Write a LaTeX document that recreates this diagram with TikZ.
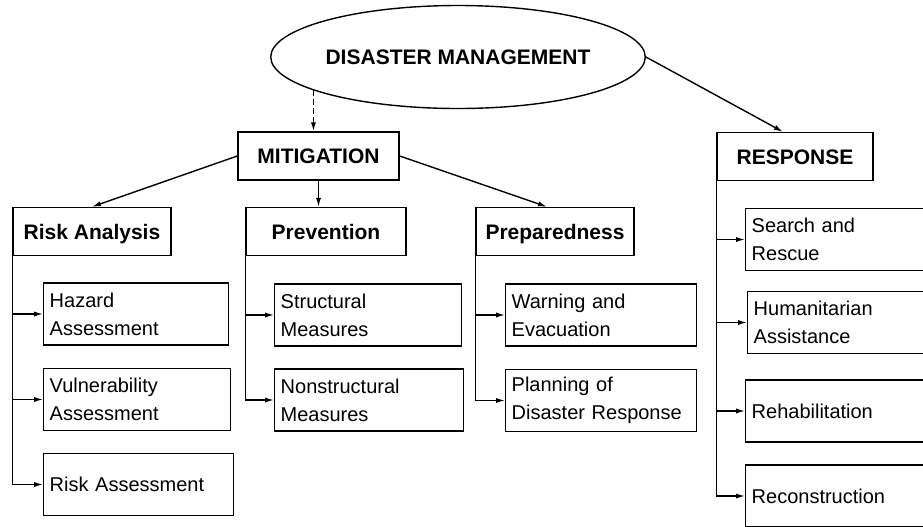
\documentclass[tikz,border=0pt]{standalone}
\usepackage{fontspec}
\setmainfont{Liberation Sans}
\usetikzlibrary{shapes.geometric, arrows.meta}

\tikzset{
  heading/.style={draw, line width=0.7pt, font=\bfseries\fontsize{10.5}{12}\selectfont,
    minimum width=#1, minimum height=24pt, inner sep=0pt, text height=7.6pt, text depth=0pt},
  leaf/.style={draw, line width=0.7pt, font=\fontsize{10}{14}\selectfont, align=left,
    anchor=west, minimum height=31pt, inner xsep=3pt, text width=#1},
  branch/.style={line width=0.7pt, -{Latex[length=4.5pt,width=2.6pt]}},
}

\begin{document}
\begin{tikzpicture}[x=0.5pt, y=-0.5pt]
\useasboundingbox (0,0) rectangle (923,526);
\clip (0,0) rectangle (923,526);

% top level
\node [ellipse, draw, line width=0.7pt, minimum width=175pt, minimum height=51.5pt,
  inner sep=0pt, font=\bfseries\fontsize{10.5}{12}\selectfont] (dm) at (458,57)
  {\raisebox{-2pt}{DISASTER MANAGEMENT}};

\node [heading=80.5pt] (mit) at (318.5,156) {MITIGATION};
\node [heading=78pt] (resp) at (795,156.5) {RESPONSE};

\draw [branch, dash pattern=on 3pt off 1.5pt] (dm.193) -- (dm.193 |- mit.north);
\draw [branch] (dm.east) -- ([xshift=-6pt]resp.north);

% second level
\node [heading=79pt] (ra) at (92,231.5) {Risk Analysis};
\node [heading=80pt] (prev) at (326,231.5) {Prevention};
\node [heading=79pt] (prep) at (555,231.5) {Preparedness};

\draw [branch] (mit.west) -- (ra.north);
\draw [branch] (mit.south) -- (mit.south |- prev.north);
\draw [branch] (mit.east) -- ([xshift=-4pt]prep.north);

% leaves
\foreach \n/\w/\y/\t in {haz/86.5/314/{Hazard\\Assessment},
    vul/87.5/399.5/{Vulnerability\\Assessment},
    risk/89/484.5/{Risk~Assessment}}
{
  \node [leaf=\w pt] (\n) at (43,\y) {\t};
  \draw [branch] (ra.south west) |- (\n.west);
}

\foreach \n/\w/\y/\t in {str/87.5/315/{Structural\\Measures},
    nonstr/88.5/400/{Nonstructural\\Measures}}
{
  \node [leaf=\w pt] (\n) at (274,\y) {\t};
  \draw [branch] (prev.south west) |- (\n.west);
}

\foreach \n/\w/\y/\t in {warn/89.5/315/{Warning~and\\Evacuation},
    plan/89.5/400.5/{Planning~of\\Disaster~Response}}
{
  \node [leaf=\w pt] (\n) at (505,\y) {\t};
  \draw [branch] (prep.south west) |- (\n.west);
}

\foreach \n/\x/\y/\t in {sar/745/239.5/{Search~and\\Rescue},
    hum/747/322.5/{Humanitarian\\Assistance},
    rehab/745/411/{Rehabilitation},
    recon/745/496/{Reconstruction}}
{
  \node [leaf=130pt] (\n) at (\x,\y) {\t};
  \draw [branch] (resp.south west) |- (\n.west);
}
\end{tikzpicture}
\end{document}
